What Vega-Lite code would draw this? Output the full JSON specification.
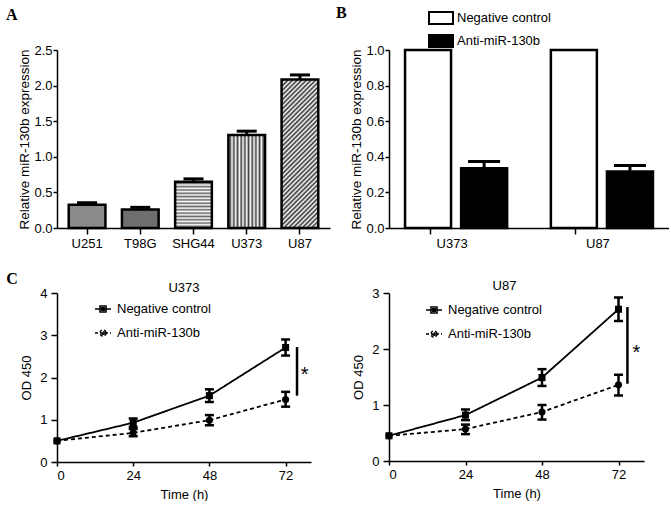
{
  "$schema": "https://vega.github.io/schema/vega-lite/v6.json",
  "background": "white",
  "padding": {"left": 6, "top": 5, "right": 0, "bottom": 0},
  "columns": 2,
  "spacing": {"row": 65, "column": 59},
  "bounds": "flush",
  "resolve": {"scale": {"fill": "independent", "shape": "independent", "strokeDash": "independent"}, "legend": {"fill": "independent", "shape": "independent", "strokeDash": "independent"}},
  "config": {
    "font": "Liberation Sans",
    "view": {"stroke": null},
    "axis": {"domainColor": "black", "domainWidth": 1.5, "tickColor": "black", "tickWidth": 1.5, "labelColor": "black", "labelFontSize": 13, "titleColor": "black", "titleFontSize": 13, "titleFontWeight": "normal", "grid": false},
    "title": {"color": "black", "fontSize": 13, "fontWeight": "normal"},
    "legend": {"labelColor": "black", "labelFontSize": 13, "labelLimit": 0, "padding": 0}
  },
  "concat": [
    {
      "width": 273, "height": 178,
      "title": {"text": "A", "font": "Liberation Serif", "fontSize": 16, "fontWeight": "bold", "anchor": "start", "frame": "group", "dx": -51, "offset": 8, "baseline": "alphabetic"},
      "data": {"values": [
        {"cell": "U251", "value": 0.325, "hi": 0.355},
        {"cell": "T98G", "value": 0.26, "hi": 0.29},
        {"cell": "SHG44", "value": 0.65, "hi": 0.69},
        {"cell": "U373", "value": 1.305, "hi": 1.36},
        {"cell": "U87", "value": 2.085, "hi": 2.15}
      ]},
      "encoding": {
        "x": {"field": "cell", "type": "nominal", "scale": {"domain": ["U251", "T98G", "SHG44", "U373", "U87"], "paddingInner": 0.31, "paddingOuter": 0.22}, "axis": {"title": null, "labelAngle": 0, "tickSize": 6, "labelPadding": 3}},
        "y": {"field": "value", "type": "quantitative", "title": "Relative miR-130b expression", "scale": {"domain": [0, 2.5], "nice": false}, "axis": {"titleFontSize": 13.5, "values": [0, 0.5, 1, 1.5, 2, 2.5], "format": ".1f", "tickSize": 4, "labelPadding": 1, "titlePadding": 2}}
      },
      "layer": [
        {
          "transform": [{"filter": "datum.cell === 'U251' || datum.cell === 'T98G'"}],
          "mark": {"type": "bar", "stroke": "black", "strokeWidth": 2.5},
          "encoding": {"fill": {"condition": {"test": "datum.cell === 'U251'", "value": "#8a8a8a"}, "value": "#6e6e6e"}}
        },
        {
          "transform": [{"filter": "datum.cell === 'SHG44'"}],
          "mark": {"type": "bar", "stroke": "black", "strokeWidth": 2.5, "fill": {"gradient": "linear", "x1": 0, "y1": 0, "x2": 0, "y2": 1, "stops": [
            {"offset": 0, "color": "#fff"}, {"offset": 0.0357, "color": "#666"}, {"offset": 0.0714, "color": "#fff"}, {"offset": 0.1071, "color": "#666"},
            {"offset": 0.1429, "color": "#fff"}, {"offset": 0.1786, "color": "#666"}, {"offset": 0.2143, "color": "#fff"}, {"offset": 0.25, "color": "#666"},
            {"offset": 0.2857, "color": "#fff"}, {"offset": 0.3214, "color": "#666"}, {"offset": 0.3571, "color": "#fff"}, {"offset": 0.3929, "color": "#666"},
            {"offset": 0.4286, "color": "#fff"}, {"offset": 0.4643, "color": "#666"}, {"offset": 0.5, "color": "#fff"}, {"offset": 0.5357, "color": "#666"},
            {"offset": 0.5714, "color": "#fff"}, {"offset": 0.6071, "color": "#666"}, {"offset": 0.6429, "color": "#fff"}, {"offset": 0.6786, "color": "#666"},
            {"offset": 0.7143, "color": "#fff"}, {"offset": 0.75, "color": "#666"}, {"offset": 0.7857, "color": "#fff"}, {"offset": 0.8214, "color": "#666"},
            {"offset": 0.8571, "color": "#fff"}, {"offset": 0.8929, "color": "#666"}, {"offset": 0.9286, "color": "#fff"}, {"offset": 0.9643, "color": "#666"},
            {"offset": 1, "color": "#fff"}
          ]}}
        },
        {
          "transform": [{"filter": "datum.cell === 'U373'"}],
          "mark": {"type": "bar", "stroke": "black", "strokeWidth": 2.5, "fill": {"gradient": "linear", "x1": 0, "y1": 0, "x2": 1, "y2": 0, "stops": [
            {"offset": 0, "color": "#fff"}, {"offset": 0.05, "color": "#444"}, {"offset": 0.1, "color": "#fff"}, {"offset": 0.15, "color": "#444"},
            {"offset": 0.2, "color": "#fff"}, {"offset": 0.25, "color": "#444"}, {"offset": 0.3, "color": "#fff"}, {"offset": 0.35, "color": "#444"},
            {"offset": 0.4, "color": "#fff"}, {"offset": 0.45, "color": "#444"}, {"offset": 0.5, "color": "#fff"}, {"offset": 0.55, "color": "#444"},
            {"offset": 0.6, "color": "#fff"}, {"offset": 0.65, "color": "#444"}, {"offset": 0.7, "color": "#fff"}, {"offset": 0.75, "color": "#444"},
            {"offset": 0.8, "color": "#fff"}, {"offset": 0.85, "color": "#444"}, {"offset": 0.9, "color": "#fff"}, {"offset": 0.95, "color": "#444"},
            {"offset": 1, "color": "#fff"}
          ]}}
        },
        {
          "transform": [{"filter": "datum.cell === 'U87'"}],
          "mark": {"type": "bar", "stroke": "black", "strokeWidth": 2.5, "fill": {"gradient": "linear", "x1": 0, "y1": 0, "x2": 0.2916, "y2": 1.176, "stops": [
            {"offset": 0, "color": "#fff"}, {"offset": 0.0125, "color": "#333"}, {"offset": 0.025, "color": "#fff"}, {"offset": 0.0375, "color": "#333"},
            {"offset": 0.05, "color": "#fff"}, {"offset": 0.0625, "color": "#333"}, {"offset": 0.075, "color": "#fff"}, {"offset": 0.0875, "color": "#333"},
            {"offset": 0.1, "color": "#fff"}, {"offset": 0.1125, "color": "#333"}, {"offset": 0.125, "color": "#fff"}, {"offset": 0.1375, "color": "#333"},
            {"offset": 0.15, "color": "#fff"}, {"offset": 0.1625, "color": "#333"}, {"offset": 0.175, "color": "#fff"}, {"offset": 0.1875, "color": "#333"},
            {"offset": 0.2, "color": "#fff"}, {"offset": 0.2125, "color": "#333"}, {"offset": 0.225, "color": "#fff"}, {"offset": 0.2375, "color": "#333"},
            {"offset": 0.25, "color": "#fff"}, {"offset": 0.2625, "color": "#333"}, {"offset": 0.275, "color": "#fff"}, {"offset": 0.2875, "color": "#333"},
            {"offset": 0.3, "color": "#fff"}, {"offset": 0.3125, "color": "#333"}, {"offset": 0.325, "color": "#fff"}, {"offset": 0.3375, "color": "#333"},
            {"offset": 0.35, "color": "#fff"}, {"offset": 0.3625, "color": "#333"}, {"offset": 0.375, "color": "#fff"}, {"offset": 0.3875, "color": "#333"},
            {"offset": 0.4, "color": "#fff"}, {"offset": 0.4125, "color": "#333"}, {"offset": 0.425, "color": "#fff"}, {"offset": 0.4375, "color": "#333"},
            {"offset": 0.45, "color": "#fff"}, {"offset": 0.4625, "color": "#333"}, {"offset": 0.475, "color": "#fff"}, {"offset": 0.4875, "color": "#333"},
            {"offset": 0.5, "color": "#fff"}, {"offset": 0.5125, "color": "#333"}, {"offset": 0.525, "color": "#fff"}, {"offset": 0.5375, "color": "#333"},
            {"offset": 0.55, "color": "#fff"}, {"offset": 0.5625, "color": "#333"}, {"offset": 0.575, "color": "#fff"}, {"offset": 0.5875, "color": "#333"},
            {"offset": 0.6, "color": "#fff"}, {"offset": 0.6125, "color": "#333"}, {"offset": 0.625, "color": "#fff"}, {"offset": 0.6375, "color": "#333"},
            {"offset": 0.65, "color": "#fff"}, {"offset": 0.6625, "color": "#333"}, {"offset": 0.675, "color": "#fff"}, {"offset": 0.6875, "color": "#333"},
            {"offset": 0.7, "color": "#fff"}, {"offset": 0.7125, "color": "#333"}, {"offset": 0.725, "color": "#fff"}, {"offset": 0.7375, "color": "#333"},
            {"offset": 0.75, "color": "#fff"}, {"offset": 0.7625, "color": "#333"}, {"offset": 0.775, "color": "#fff"}, {"offset": 0.7875, "color": "#333"},
            {"offset": 0.8, "color": "#fff"}, {"offset": 0.8125, "color": "#333"}, {"offset": 0.825, "color": "#fff"}, {"offset": 0.8375, "color": "#333"},
            {"offset": 0.85, "color": "#fff"}, {"offset": 0.8625, "color": "#333"}, {"offset": 0.875, "color": "#fff"}, {"offset": 0.8875, "color": "#333"},
            {"offset": 0.9, "color": "#fff"}, {"offset": 0.9125, "color": "#333"}, {"offset": 0.925, "color": "#fff"}, {"offset": 0.9375, "color": "#333"},
            {"offset": 0.95, "color": "#fff"}, {"offset": 0.9625, "color": "#333"}, {"offset": 0.975, "color": "#fff"}, {"offset": 0.9875, "color": "#333"},
            {"offset": 1, "color": "#fff"}
          ]}}
        },
        {
          "mark": {"type": "rule", "strokeWidth": 3, "color": "black"},
          "encoding": {"y2": {"field": "hi"}}
        },
        {
          "mark": {"type": "tick", "orient": "horizontal", "thickness": 3, "size": 20, "color": "black", "opacity": 1},
          "encoding": {"y": {"field": "hi", "type": "quantitative", "title": "Relative miR-130b expression"}}
        }
      ]
    },
    {
      "width": 280, "height": 178,
      "title": {"text": "B", "font": "Liberation Serif", "fontSize": 16, "fontWeight": "bold", "anchor": "start", "frame": "group", "dx": -53, "offset": -29, "baseline": "alphabetic"},
      "data": {"values": [
        {"cell": "U373", "group": "Negative control", "value": 1.0, "hi": null},
        {"cell": "U373", "group": "Anti-miR-130b", "value": 0.336, "hi": 0.374},
        {"cell": "U87", "group": "Negative control", "value": 1.0, "hi": null},
        {"cell": "U87", "group": "Anti-miR-130b", "value": 0.318, "hi": 0.351}
      ]},
      "encoding": {
        "x": {"field": "cell", "type": "nominal", "scale": {"domain": ["U373", "U87"], "paddingInner": 0.3, "paddingOuter": 0.11}, "axis": {"title": null, "labelAngle": 0, "bandPosition": 0.245, "labelOffset": -4, "tickSize": 6, "labelPadding": 3}},
        "xOffset": {"field": "group", "type": "nominal", "scale": {"domain": ["Negative control", "Anti-miR-130b"], "paddingInner": 0.18, "paddingOuter": 0}},
        "y": {"field": "value", "type": "quantitative", "title": "Relative miR-130b expression", "scale": {"domain": [0, 1], "nice": false}, "axis": {"titleFontSize": 13.5, "values": [0, 0.2, 0.4, 0.6, 0.8, 1.0], "format": ".1f", "tickSize": 4, "labelPadding": 1, "titlePadding": 2}}
      },
      "layer": [
        {
          "mark": {"type": "bar", "stroke": "black", "strokeWidth": 2.5},
          "encoding": {"fill": {"field": "group", "type": "nominal", "scale": {"domain": ["Negative control", "Anti-miR-130b"], "range": ["white", "black"]},
            "legend": {"orient": "none", "legendX": 39, "legendY": -45, "title": null, "symbolType": "M-1,-0.5H1V0.5H-1Z", "symbolSize": 576, "rowPadding": -3, "labelOffset": 3,
              "symbolStrokeColor": "black", "symbolStrokeWidth": 2}}}
        },
        {
          "transform": [{"filter": "datum.hi != null"}],
          "mark": {"type": "rule", "strokeWidth": 3, "color": "black"},
          "encoding": {"y2": {"field": "hi"}}
        },
        {
          "transform": [{"filter": "datum.hi != null"}],
          "mark": {"type": "tick", "orient": "horizontal", "thickness": 3, "size": 32, "color": "black", "opacity": 1},
          "encoding": {"y": {"field": "hi", "type": "quantitative", "title": "Relative miR-130b expression"}}
        }
      ]
    },
    {
      "width": 254, "height": 169,
      "title": {"text": "U373", "offset": -34, "baseline": "alphabetic"},
      "data": {"values": [
        {"t": 0, "od": 0.5, "lo": null, "hi": null, "group": "Negative control"},
        {"t": 24, "od": 0.93, "lo": 0.83, "hi": 1.03, "group": "Negative control"},
        {"t": 48, "od": 1.57, "lo": 1.42, "hi": 1.72, "group": "Negative control"},
        {"t": 72, "od": 2.71, "lo": 2.52, "hi": 2.9, "group": "Negative control"},
        {"t": 0, "od": 0.5, "lo": null, "hi": null, "group": "Anti-miR-130b"},
        {"t": 24, "od": 0.69, "lo": 0.61, "hi": 0.78, "group": "Anti-miR-130b"},
        {"t": 48, "od": 0.99, "lo": 0.87, "hi": 1.11, "group": "Anti-miR-130b"},
        {"t": 72, "od": 1.48, "lo": 1.31, "hi": 1.66, "group": "Anti-miR-130b"}
      ]},
      "encoding": {
        "x": {"field": "t", "type": "quantitative", "title": "Time (h)", "scale": {"domain": [0, 80], "nice": false}, "axis": {"values": [0, 24, 48, 72], "tickSize": 4, "labelPadding": 3, "titlePadding": 6}},
        "y": {"field": "od", "type": "quantitative", "title": "OD 450", "scale": {"domain": [0, 4], "nice": false}, "axis": {"values": [0, 1, 2, 3, 4], "tickSize": 6, "labelPadding": 4, "titlePadding": 6}}
      },
      "layer": [
        {
          "mark": {"type": "line", "color": "black", "strokeWidth": 1.8},
          "encoding": {"detail": {"field": "group"}, "strokeDash": {"condition": {"test": "datum.group === 'Anti-miR-130b'", "value": [4, 3]}, "value": [1, 0]}}
        },
        {
          "mark": {"type": "point", "filled": true, "color": "black", "opacity": 1, "size": 50},
          "encoding": {"shape": {"condition": {"test": "datum.group === 'Anti-miR-130b'", "value": "circle"}, "value": "square"}}
        },
        {
          "transform": [{"filter": "datum.t < 0"}],
          "mark": {"type": "point", "filled": false, "color": "black", "strokeWidth": 1.5, "opacity": 1},
          "encoding": {
            "shape": {"field": "group", "type": "nominal", "scale": {"domain": ["Negative control", "Anti-miR-130b"], "range": ["M-1,0H1M-0.38,-0.38H0.38V0.38H-0.38ZM-0.15,-0.15H0.15V0.15H-0.15Z", "M-1,0H1M0.38,0A0.38,0.38,0,1,1,-0.38,0A0.38,0.38,0,1,1,0.38,0ZM0.15,0A0.15,0.15,0,1,1,-0.15,0A0.15,0.15,0,1,1,0.15,0Z"]},
              "legend": {"orient": "none", "legendX": 37, "legendY": 7, "title": null, "symbolSize": 256, "labelOffset": 5, "rowPadding": 8, "symbolStrokeWidth": 1.5, "symbolOpacity": 1}},
            "strokeDash": {"field": "group", "type": "nominal", "scale": {"domain": ["Negative control", "Anti-miR-130b"], "range": [[1, 0], [3, 2]]},
              "legend": {"orient": "none", "legendX": 37, "legendY": 7, "title": null, "symbolSize": 256, "labelOffset": 5, "rowPadding": 8, "symbolStrokeWidth": 1.5, "symbolOpacity": 1}}
          }
        },
        {
          "transform": [{"filter": "datum.lo != null"}],
          "mark": {"type": "rule", "color": "black", "strokeWidth": 2.5},
          "encoding": {"y": {"field": "lo", "type": "quantitative", "title": "OD 450"}, "y2": {"field": "hi"}}
        },
        {
          "transform": [{"filter": "datum.lo != null"}],
          "mark": {"type": "tick", "orient": "horizontal", "color": "black", "thickness": 2.5, "size": 9, "opacity": 1},
          "encoding": {"y": {"field": "lo", "type": "quantitative", "title": "OD 450"}}
        },
        {
          "transform": [{"filter": "datum.lo != null"}],
          "mark": {"type": "tick", "orient": "horizontal", "color": "black", "thickness": 2.5, "size": 9, "opacity": 1},
          "encoding": {"y": {"field": "hi", "type": "quantitative", "title": "OD 450"}}
        },
        {
          "data": {"values": [{"t": 75.6, "y1": 1.57, "y2": 2.72}]},
          "mark": {"type": "rule", "color": "black", "strokeWidth": 2.5},
          "encoding": {"y": {"field": "y1", "type": "quantitative", "title": "OD 450"}, "y2": {"field": "y2"}}
        },
        {
          "data": {"values": [{"t": 78, "od": 1.92, "label": "*"}]},
          "mark": {"type": "text", "fontSize": 20, "align": "center", "baseline": "alphabetic", "color": "black"},
          "encoding": {"text": {"field": "label"}}
        },
        {
          "data": {"values": [{"t": -16, "od": 4.21, "label": "C"}]},
          "mark": {"type": "text", "font": "Liberation Serif", "fontSize": 16, "fontWeight": "bold", "align": "left", "baseline": "alphabetic", "color": "black"},
          "encoding": {"text": {"field": "label"}}
        }
      ]
    },
    {
      "width": 255, "height": 168,
      "title": {"text": "U87", "offset": -16, "baseline": "alphabetic", "dx": -12},
      "data": {"values": [
        {"t": 0, "od": 0.45, "lo": null, "hi": null, "group": "Negative control"},
        {"t": 24, "od": 0.82, "lo": 0.73, "hi": 0.92, "group": "Negative control"},
        {"t": 48, "od": 1.49, "lo": 1.34, "hi": 1.64, "group": "Negative control"},
        {"t": 72, "od": 2.71, "lo": 2.5, "hi": 2.92, "group": "Negative control"},
        {"t": 0, "od": 0.45, "lo": null, "hi": null, "group": "Anti-miR-130b"},
        {"t": 24, "od": 0.57, "lo": 0.48, "hi": 0.65, "group": "Anti-miR-130b"},
        {"t": 48, "od": 0.875, "lo": 0.74, "hi": 1.0, "group": "Anti-miR-130b"},
        {"t": 72, "od": 1.36, "lo": 1.17, "hi": 1.54, "group": "Anti-miR-130b"}
      ]},
      "encoding": {
        "x": {"field": "t", "type": "quantitative", "title": "Time (h)", "scale": {"domain": [0, 80], "nice": false}, "axis": {"values": [0, 24, 48, 72], "tickSize": 4, "labelPadding": 3, "titlePadding": 6}},
        "y": {"field": "od", "type": "quantitative", "title": "OD 450", "scale": {"domain": [0, 3], "nice": false}, "axis": {"values": [0, 1, 2, 3], "tickSize": 6, "labelPadding": 4, "titlePadding": 6}}
      },
      "layer": [
        {
          "mark": {"type": "line", "color": "black", "strokeWidth": 1.8},
          "encoding": {"detail": {"field": "group"}, "strokeDash": {"condition": {"test": "datum.group === 'Anti-miR-130b'", "value": [4, 3]}, "value": [1, 0]}}
        },
        {
          "mark": {"type": "point", "filled": true, "color": "black", "opacity": 1, "size": 50},
          "encoding": {"shape": {"condition": {"test": "datum.group === 'Anti-miR-130b'", "value": "circle"}, "value": "square"}}
        },
        {
          "transform": [{"filter": "datum.t < 0"}],
          "mark": {"type": "point", "filled": false, "color": "black", "strokeWidth": 1.5, "opacity": 1},
          "encoding": {
            "shape": {"field": "group", "type": "nominal", "scale": {"domain": ["Negative control", "Anti-miR-130b"], "range": ["M-1,0H1M-0.38,-0.38H0.38V0.38H-0.38ZM-0.15,-0.15H0.15V0.15H-0.15Z", "M-1,0H1M0.38,0A0.38,0.38,0,1,1,-0.38,0A0.38,0.38,0,1,1,0.38,0ZM0.15,0A0.15,0.15,0,1,1,-0.15,0A0.15,0.15,0,1,1,0.15,0Z"]},
              "legend": {"orient": "none", "legendX": 36, "legendY": 8, "title": null, "symbolSize": 256, "labelOffset": 5, "rowPadding": 8, "symbolStrokeWidth": 1.5, "symbolOpacity": 1}},
            "strokeDash": {"field": "group", "type": "nominal", "scale": {"domain": ["Negative control", "Anti-miR-130b"], "range": [[1, 0], [3, 2]]},
              "legend": {"orient": "none", "legendX": 36, "legendY": 8, "title": null, "symbolSize": 256, "labelOffset": 5, "rowPadding": 8, "symbolStrokeWidth": 1.5, "symbolOpacity": 1}}
          }
        },
        {
          "transform": [{"filter": "datum.lo != null"}],
          "mark": {"type": "rule", "color": "black", "strokeWidth": 2.5},
          "encoding": {"y": {"field": "lo", "type": "quantitative", "title": "OD 450"}, "y2": {"field": "hi"}}
        },
        {
          "transform": [{"filter": "datum.lo != null"}],
          "mark": {"type": "tick", "orient": "horizontal", "color": "black", "thickness": 2.5, "size": 9, "opacity": 1},
          "encoding": {"y": {"field": "lo", "type": "quantitative", "title": "OD 450"}}
        },
        {
          "transform": [{"filter": "datum.lo != null"}],
          "mark": {"type": "tick", "orient": "horizontal", "color": "black", "thickness": 2.5, "size": 9, "opacity": 1},
          "encoding": {"y": {"field": "hi", "type": "quantitative", "title": "OD 450"}}
        },
        {
          "data": {"values": [{"t": 74.8, "y1": 1.38, "y2": 2.75}]},
          "mark": {"type": "rule", "color": "black", "strokeWidth": 2.5},
          "encoding": {"y": {"field": "y1", "type": "quantitative", "title": "OD 450"}, "y2": {"field": "y2"}}
        },
        {
          "data": {"values": [{"t": 77.6, "od": 1.82, "label": "*"}]},
          "mark": {"type": "text", "fontSize": 20, "align": "center", "baseline": "alphabetic", "color": "black"},
          "encoding": {"text": {"field": "label"}}
        }
      ]
    }
  ]
}
